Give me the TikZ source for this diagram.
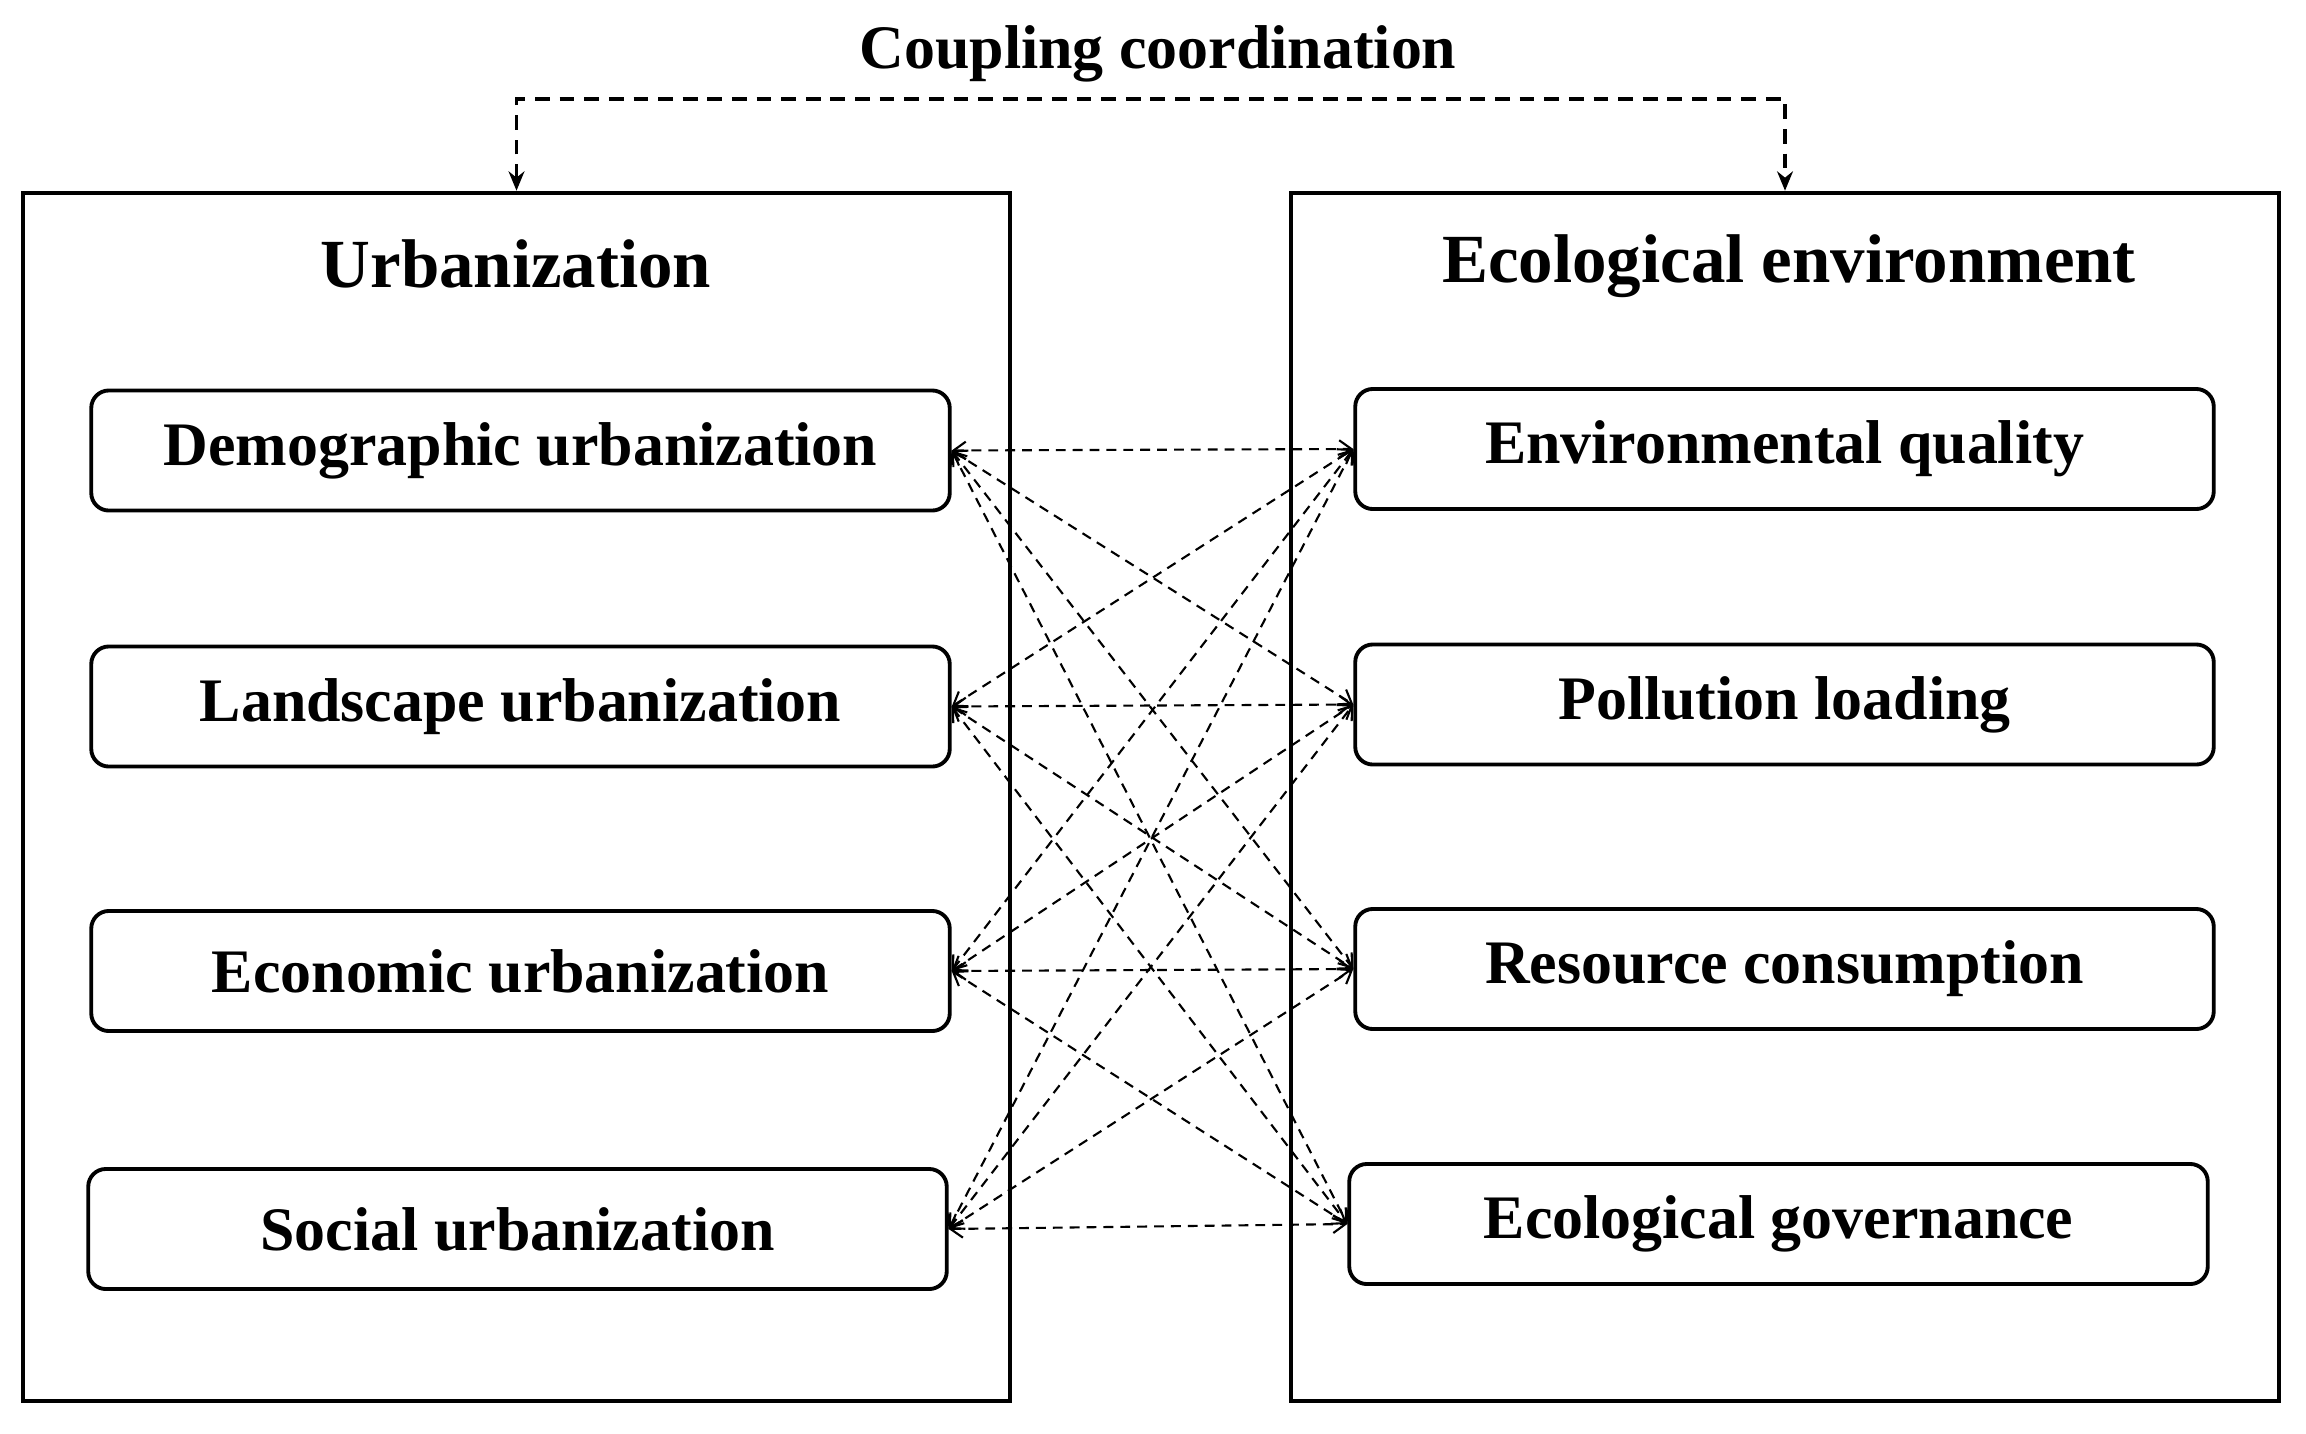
\documentclass[tikz,border=0pt]{standalone}
\usepackage{fontspec}
\setmainfont{Liberation Serif}
\usetikzlibrary{arrows.meta}
\begin{document}
\begin{tikzpicture}[x=0.01cm,y=-0.01cm,
  outerbox/.style={draw,line width=1.1pt,minimum width=9.87cm,minimum height=12.08cm,inner sep=0pt},
  innerbox/.style={draw,line width=1.1pt,rounded corners=5pt,minimum width=8.58cm,minimum height=1.2cm,font=\fontsize{17.6}{20}\selectfont\bfseries,inner sep=0pt},
  headtxt/.style={font=\fontsize{19.6}{23}\selectfont\bfseries,inner sep=0pt},
  titletxt/.style={font=\fontsize{17.6}{20}\selectfont\bfseries,inner sep=0pt},
  link/.style={draw,line width=0.6pt,dash pattern=on 2.8pt off 2pt,{Straight Barb[length=3.5pt,width=5pt]}-{Straight Barb[length=3.5pt,width=5pt]}},
  topconn/.style={draw,line width=1.05pt,dash pattern=on 4.2pt off 2.8pt,{Stealth[length=5.5pt,width=4.5pt]}-{Stealth[length=5.5pt,width=4.5pt]}}
]
\useasboundingbox (0,0) rectangle (2306,1433);
\fill[white] (0,0) rectangle (2306,1433);

\node[outerbox] (uo) at (516.5,797) {};
\node[outerbox] (eo) at (1785,797) {};

\node[titletxt] (title) at (1158,54) {Coupling coordination};
\node[headtxt] (uh) at (516,264) {Urbanization};
\node[headtxt] (eh) at (1789,266) {Ecological environment};

\node[innerbox] (d) at (520.5,450.5) {Demographic urbanization};
\node[innerbox] (l) at (520.5,706.5) {Landscape urbanization};
\node[innerbox] (ec) at (520.5,971) {Economic urbanization};
\node[innerbox] (s) at (517.5,1229) {Social urbanization};

\node[innerbox] (q) at (1784.5,449) {Environmental quality};
\node[innerbox] (p) at (1784.5,704.5) {Pollution loading};
\node[innerbox] (r) at (1784.5,969) {Resource consumption};
\node[innerbox] (g) at (1778.5,1224) {Ecological governance};

\foreach \a in {d,l,ec,s}{
  \foreach \b in {q,p,r,g}{
    \path[link] (\a.east) -- (\b.west);
  }
}

\coordinate (tl) at (516.5,99);
\coordinate (tr) at (1785,99);
\path[topconn] (uo.north) -- (tl) -- (tr) -- (eo.north);
\end{tikzpicture}
\end{document}
